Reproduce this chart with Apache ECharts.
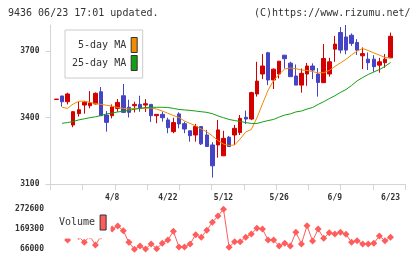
<!DOCTYPE html>
<html><head><meta charset="utf-8">
<script src="https://cdn.jsdelivr.net/npm/echarts@6/dist/echarts.min.js"></script>
<style>html,body{margin:0;padding:0;background:#fff}#c{width:420px;height:259px}</style>
</head><body><div id="c"></div>
<script>
const dates = ['3/25','3/26','3/27','3/28','3/31','4/1','4/2','4/3','4/4','4/7',
  '4/8','4/9','4/10','4/11','4/14','4/15','4/16','4/17','4/18','4/21',
  '4/22','4/23','4/24','4/25','4/28','4/30','5/1','5/7','5/8','5/9',
  '5/12','5/13','5/14','5/15','5/16','5/19','5/20','5/21','5/22','5/23',
  '5/26','5/27','5/28','5/29','5/30','6/2','6/3','6/4','6/5','6/6',
  '6/9','6/10','6/11','6/12','6/13','6/16','6/17','6/18','6/19','6/20','6/23'];
const dateTicks = ['4/8','4/22','5/12','5/26','6/9','6/23'];
const opens = [3481,3497,3471,3366,3417,3456,3453,3461,3516,3411,
  3408,3441,3498,3446,3453,3459,3456,3459,3408,3414,
  3389,3336,3416,3372,3340,3321,3359,3321,3276,3276,
  3227,3311,3321,3332,3401,3393,3506,3596,3692,3569,
  3596,3681,3645,3587,3546,3596,3632,3596,3557,3596,
  3708,3783,3763,3771,3738,3678,3663,3663,3636,3647,3669];
const closes = [3483,3471,3506,3426,3435,3469,3465,3509,3408,3378,
  3447,3468,3423,3423,3459,3441,3462,3408,3414,3399,
  3354,3377,3371,3348,3318,3359,3281,3269,3182,3344,
  3306,3269,3351,3396,3393,3512,3564,3632,3569,3618,
  3654,3665,3584,3546,3599,3632,3614,3558,3666,3651,
  3731,3704,3704,3734,3704,3688,3647,3629,3651,3663,3766];
const lows = [3481,3449,3459,3356,3404,3417,3441,3459,3408,3336,
  3396,3426,3420,3400,3423,3426,3425,3380,3374,3381,
  3329,3329,3351,3329,3291,3291,3276,3269,3129,3219,
  3227,3269,3276,3321,3371,3388,3494,3573,3546,3528,
  3576,3621,3584,3546,3512,3543,3573,3494,3557,3584,
  3651,3689,3685,3723,3682,3618,3614,3606,3602,3624,3669];
const highs = [3483,3497,3512,3429,3471,3474,3519,3513,3537,3429,
  3459,3483,3551,3480,3471,3498,3483,3459,3414,3426,
  3399,3399,3423,3381,3340,3371,3359,3344,3288,3389,
  3340,3317,3366,3411,3431,3516,3651,3686,3696,3621,
  3654,3681,3651,3639,3621,3646,3644,3623,3731,3669,
  3768,3808,3817,3779,3753,3716,3693,3681,3669,3686,3783];
const ma5 = ['-',3446,3441,3461,3473,3474,3468,3463,3459,3455,3451,
  3445,3441,3438,3441,3441,3441,3443,3438,3429,3419,
  3409,3400,3384,3373,3362,3348,3335,3317,3296,3280,
  3274,3276,3303,3335,3346,3398,3461,3522,3567,3595,
  3619,3623,3620,3614,3612,3607,3601,3602,3612,3630,
  3646,3662,3682,3700,3711,3702,3691,3681,3671,3668];
const ma25 = ['-',3374,3377,3382,3389,3394,3399,3403,3409,3416,3420,
  3425,3428,3432,3437,3441,3445,3446,3446,3446,3445,
  3441,3436,3434,3432,3429,3426,3423,3417,3407,3399,
  3391,3386,3382,3377,3373,3373,3380,3386,3391,3402,
  3411,3416,3425,3429,3438,3445,3459,3471,3485,3498,
  3513,3526,3544,3565,3580,3594,3605,3616,3630,3648];
const volumes = [150000,140000,113500,150000,131000,101600,134000,87700,134000,150000,
  170000,185800,161600,101600,66000,82500,67500,92900,68600,96500,
  113500,158500,77400,77400,92900,140900,127500,163600,204900,237500,
  272600,75800,104700,104700,127500,144500,173900,170300,113500,113500,
  82500,96500,82500,153300,92900,187400,108400,170300,122300,151200,
  144500,153300,143000,101600,109900,92900,92900,96500,134200,109900,127500];
const priceTicks = [3100,3400,3700];
const volumeTicks = [66000,169300,272600];
const priceMin = 3100, priceMax = 3817;

const MONO = 'DejaVu Sans Mono';
const axisColor = '#d4d4d4';
const labelStyle = {fontFamily: MONO, fontSize: 8, fontWeight: 'bold', color: '#333'};
const plain = v => String(v);
const chart = echarts.init(document.getElementById('c'), null, {renderer: 'canvas'});
chart.setOption({
  animation: false,
  backgroundColor: '#fff',
  title: [
    {text: '9436 06/23 17:01 updated.', left: 8, top: 8, padding: 0,
     textStyle: {fontFamily: MONO, fontSize: 10, fontWeight: 'normal', color: '#333'}},
    {text: '(C)https://www.rizumu.net/', left: 254, top: 8, padding: 0,
     textStyle: {fontFamily: MONO, fontSize: 10, fontWeight: 'normal', color: '#333'}}
  ],
  legend: [
    {data: ['5-day MA', '25-day MA'], orient: 'vertical', left: 65, top: 30, align: 'right',
     icon: 'rect', itemWidth: 6, itemHeight: 15, itemGap: 2, padding: [7, 5, 7, 7],
     borderColor: '#ccc', borderWidth: 1, backgroundColor: '#fff', selectedMode: false,
     textStyle: {fontFamily: MONO, fontSize: 10, color: '#333'},
     itemStyle: {borderColor: '#333', borderWidth: 1}},
    {data: ['Volume'], left: 52, top: 205, icon: 'rect', itemWidth: 6, itemHeight: 15,
     padding: [9.5, 4, 8, 7], backgroundColor: '#fff', borderWidth: 0, selectedMode: false,
     align: 'right',
     textStyle: {fontFamily: MONO, fontSize: 10, color: '#333'},
     itemStyle: {borderColor: '#333', borderWidth: 1}}
  ],
  grid: [
    {left: 53.7, width: 339.6, top: 25, height: 159},
    {left: 50.5, width: 354.5, top: 25, height: 159},
    {left: 53.7, width: 339.6, top: 209.2, height: 40}
  ],
  xAxis: [
    {gridIndex: 0, type: 'category', data: dates, boundaryGap: true,
     axisLine: {show: false}, axisTick: {show: false}, splitLine: {show: false},
     axisLabel: Object.assign({interval: (i, v) => dateTicks.includes(v), margin: 10, hideOverlap: false}, labelStyle)},
    {gridIndex: 1, type: 'value', min: 0, max: 11, interval: 1,
     axisLine: {show: true, lineStyle: {color: axisColor, width: 1}},
     axisTick: {show: true, length: 6, lineStyle: {color: axisColor}},
     axisLabel: {show: false}, splitLine: {show: false}},
    {gridIndex: 2, type: 'category', data: dates, boundaryGap: true, show: false}
  ],
  yAxis: [
    {gridIndex: 0, type: 'value', min: priceMin, max: priceMax, show: false, splitLine: {show: false}},
    {gridIndex: 1, type: 'value', min: priceMin, max: priceMax,
     axisLine: {show: true, lineStyle: {color: axisColor}},
     axisTick: {show: true, length: 5, customValues: priceTicks, lineStyle: {color: axisColor}},
     axisLabel: Object.assign({customValues: priceTicks, margin: 11, formatter: plain}, labelStyle),
     splitLine: {show: false}},
    {gridIndex: 2, type: 'value', min: volumeTicks[0], max: volumeTicks[2],
     axisLine: {show: false}, axisTick: {show: false}, splitLine: {show: false},
     axisLabel: Object.assign({customValues: volumeTicks, margin: 9.7, formatter: plain}, labelStyle)}
  ],
  series: [
    {type: 'candlestick', name: 'price', xAxisIndex: 0, yAxisIndex: 0, barWidth: 4,
     data: dates.map((d, i) => [opens[i], closes[i], lows[i], highs[i]]),
     itemStyle: {color: '#d40000', color0: '#4444c4', borderColor: '#d40000', borderColor0: '#4444c4', borderWidth: 1}},
    {type: 'line', name: '5-day MA', xAxisIndex: 0, yAxisIndex: 0, data: ma5, symbol: 'none',
     lineStyle: {width: 1, color: '#f08c00'}, itemStyle: {color: '#f08c00'}},
    {type: 'line', name: '25-day MA', xAxisIndex: 0, yAxisIndex: 0, data: ma25, symbol: 'none',
     lineStyle: {width: 1, color: '#12a012'}, itemStyle: {color: '#12a012'}},
    {type: 'line', name: 'Volume', xAxisIndex: 2, yAxisIndex: 2, data: volumes,
     symbol: 'diamond', symbolSize: 7, showAllSymbol: true,
     lineStyle: {width: 1, color: '#ff5c5c'}, itemStyle: {color: '#ff5c5c'}}
  ]
});
</script></body></html>
